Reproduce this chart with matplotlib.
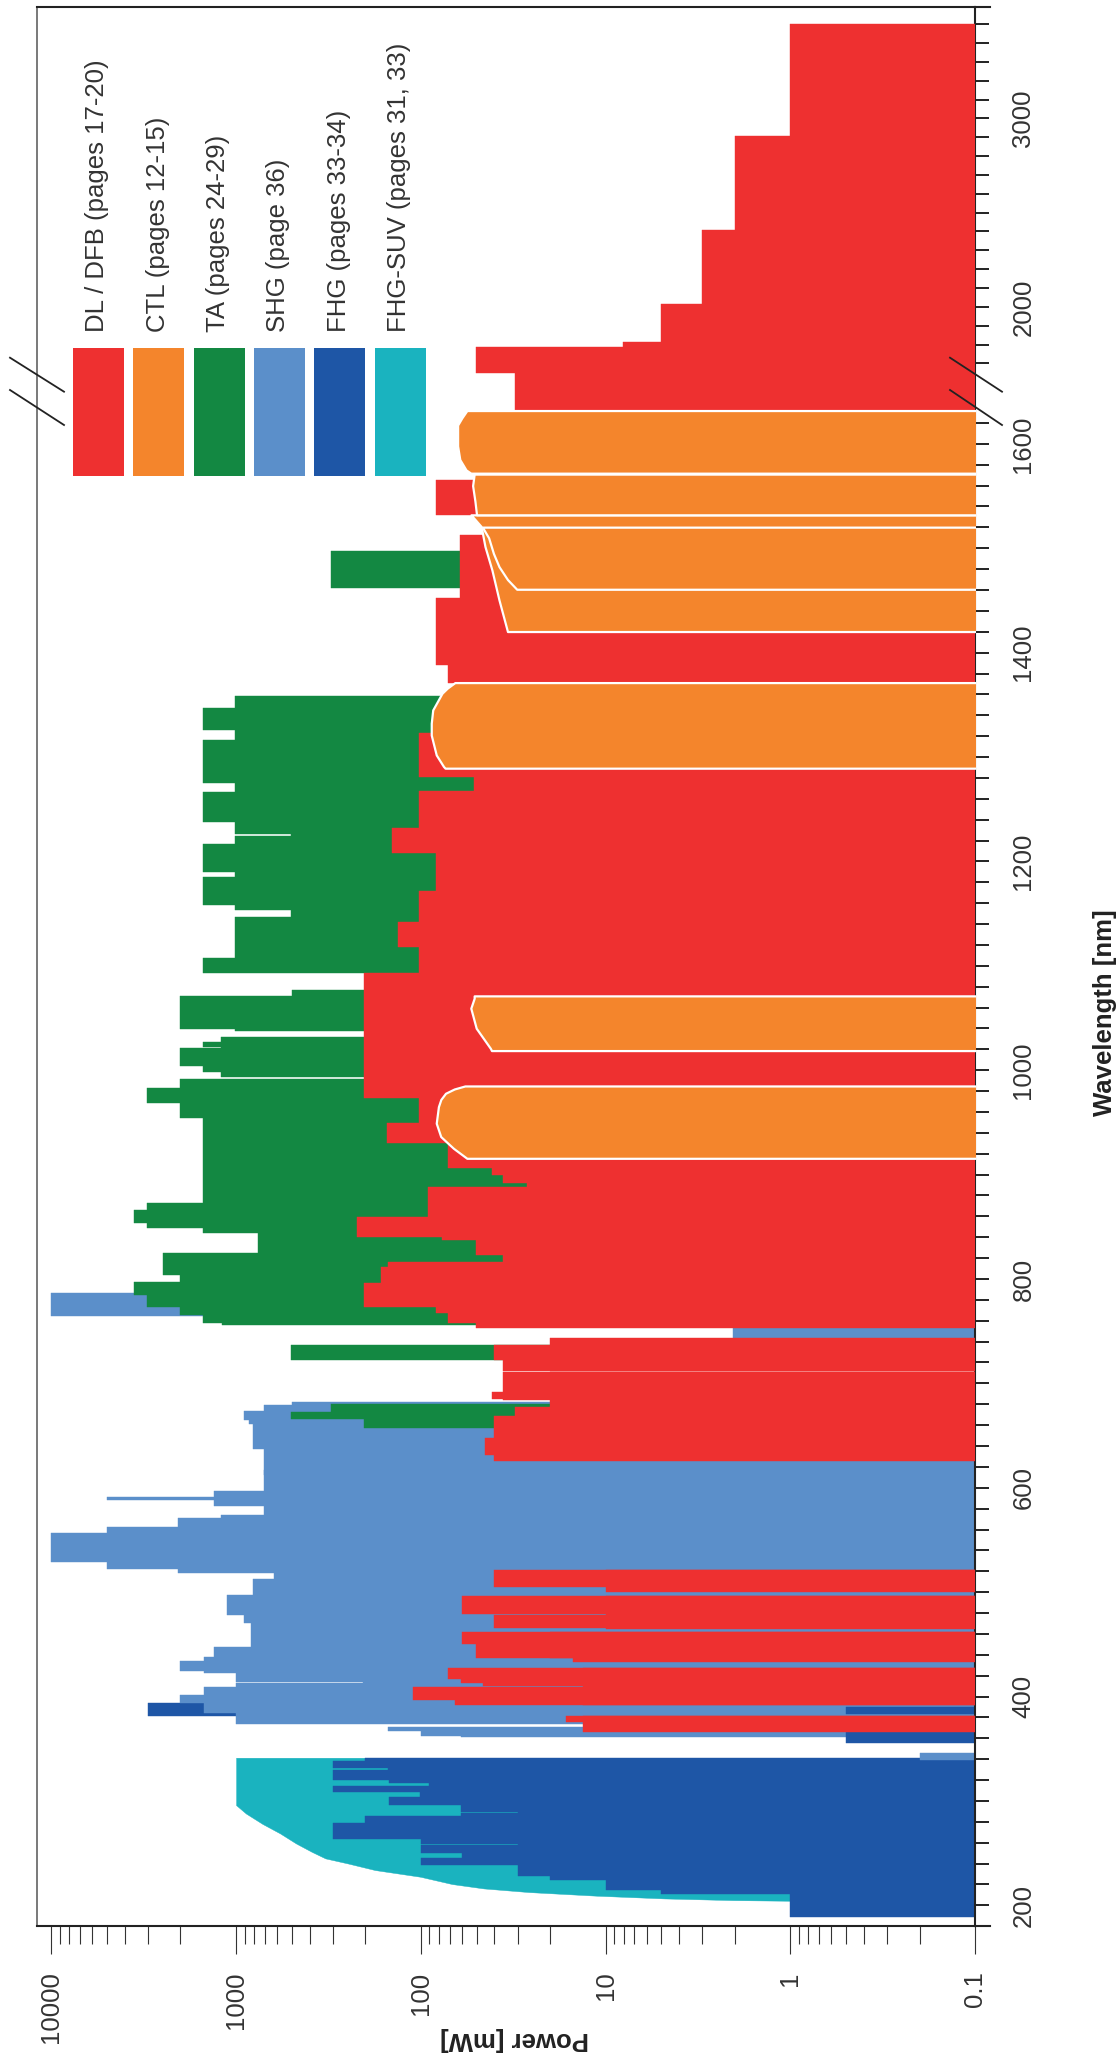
import numpy as np
import matplotlib
matplotlib.use("Agg")
import matplotlib.pyplot as plt
from matplotlib.patches import Rectangle
from matplotlib.lines import Line2D
from matplotlib.ticker import FixedLocator, FixedFormatter, NullFormatter

plt.rcParams['font.family'] = ['Liberation Sans', 'DejaVu Sans']

# ---------------- data ----------------
SERIES_NAMES = ["DL / DFB (pages 17-20)", "CTL (pages 12-15)", "TA (pages 24-29)",
                "SHG (page 36)", "FHG (pages 33-34)", "FHG-SUV (pages 31, 33)"]
SERIES_COLORS = ["#EE3030", "#F4852C", "#138842", "#5B8FCA", "#1E56A6", "#1AB3BF"]

# (wavelength start nm, wavelength end nm, max power mW)
DL_BARS = [
    (2907, 3500, 1.0), (2408, 2907, 2.0), (2014, 2408, 3.0), (1815, 2014, 5.0),
    (1789, 1815, 8.1), (1668, 1789, 50.6), (1632, 1668, 30.8), (1532, 1565.7, 82.6),
    (1452.1, 1512.8, 61.6), (1388.2, 1452.1, 82.6), (1371.3, 1388.2, 71.6),
    (1281.3, 1323, 102), (1267.6, 1281.3, 51.5), (1231.8, 1267.6, 102),
    (1207.8, 1231.8, 143), (1171.7, 1207.8, 82.6), (1142.4, 1171.7, 102),
    (1118.4, 1142.4, 133), (1092.9, 1118.4, 102), (973.1, 1092.9, 204),
    (949.8, 973.1, 102), (930.7, 949.8, 152), (906.1, 930.7, 71.6),
    (899.7, 906.1, 41), (891.7, 899.7, 36), (887.9, 891.7, 26.7),
    (859.1, 887.9, 91.8), (840.6, 859.1, 223), (837.4, 840.6, 76.9),
    (823.1, 837.4, 50.6), (816.7, 823.1, 36), (811.9, 816.7, 150),
    (795.9, 811.9, 164), (773.6, 795.9, 204), (767.2, 773.6, 82.6),
    (757.6, 767.2, 71.6), (752.8, 757.6, 50.6), (711.8, 743.9, 20),
    (722.5, 736.8, 40), (711.8, 722.5, 36), (684.2, 710.6, 36),
    (685.1, 692.1, 41), (677.8, 710.6, 20), (669.1, 677.8, 30.8),
    (647.5, 669.1, 40), (631.4, 647.5, 45), (625.7, 631.4, 40),
    (505.2, 521.2, 40.2), (500.4, 521.2, 10), (479.0, 496.3, 60),
    (464.4, 496.3, 10), (465.3, 478.1, 40), (450.3, 462.0, 60),
    (437.2, 462.0, 20), (437.2, 450.3, 50.6), (433.4, 437.2, 15),
    (416.5, 427.1, 71), (412.7, 416.5, 61), (410.1, 412.7, 46),
    (391.9, 427.1, 13.3), (396.7, 408.9, 111), (391.9, 396.7, 65),
    (376.0, 381.4, 16.3), (366.4, 381.4, 13.3),
]

TA_BARS = [
    (1462.3, 1497.5, 305), (1346.7, 1358.5, 1011), (1326.0, 1346.7, 1507),
    (1316.4, 1326.0, 1011), (1274.9, 1316.4, 1507), (1266.3, 1274.9, 1011),
    (1238.2, 1266.3, 1507), (1226.0, 1238.2, 1011), (1224.4, 1226.0, 505),
    (1216.5, 1224.4, 1011), (1189.6, 1216.5, 1507), (1185.5, 1189.6, 1011),
    (1158.3, 1185.5, 1507), (1153.6, 1158.3, 1011), (1147.2, 1153.6, 505),
    (1107.9, 1147.2, 1011), (1092.9, 1107.9, 1507), (1071.1, 1076.9, 497),
    (1039.2, 1071.1, 2023), (1038.0, 1039.2, 1011), (1021.0, 1031.6, 1208),
    (1022.5, 1027.3, 1507), (1004.1, 1021.0, 2023), (998.7, 1004.1, 1507),
    (993.3, 998.7, 1208), (982.7, 991.3, 2023), (969.0, 982.7, 3020),
    (954.0, 969.0, 2023), (872.5, 954.0, 1507), (866.1, 872.5, 3020),
    (853.4, 866.1, 3564), (848.6, 853.4, 3020), (843.8, 848.6, 1507),
    (824.7, 843.8, 760), (803.9, 824.7, 2500), (797.5, 803.9, 2023),
    (784.7, 797.5, 3564), (773.6, 784.7, 3020), (765.6, 773.6, 2023),
    (757.6, 765.6, 1507), (756.0, 757.6, 1186), (722.5, 736.8, 506),
    (673.0, 680.5, 305), (665.9, 673.0, 506), (657.6, 665.9, 204),
]

SHG_BARS = [
    (765.0, 786.3, 10000), (743.9, 752.8, 2.05), (679.4, 682.5, 497),
    (674.0, 679.4, 708), (665.0, 674.0, 909), (660.8, 665.0, 850),
    (637.2, 660.8, 810), (612.3, 637.2, 708), (597.2, 617.0, 708),
    (582.5, 597.2, 1318), (588.0, 591.0, 5000), (573.9, 582.5, 708),
    (570.7, 573.9, 1200), (562.1, 570.7, 2057), (557.0, 562.1, 5000),
    (529.2, 557.0, 10000), (521.8, 529.2, 5000), (518.0, 521.8, 2057),
    (513.0, 518.0, 620), (497.2, 513.0, 810), (478.1, 497.2, 1124),
    (470.1, 478.1, 909), (447.7, 470.1, 832), (438.2, 447.7, 1318),
    (434.4, 438.2, 1500), (424.8, 434.4, 2024), (422.3, 424.8, 1500),
    (414.0, 422.3, 1005), (413.0, 414.0, 206), (409.5, 413.0, 1005),
    (401.5, 409.5, 1500), (393.5, 401.5, 2024), (384.6, 393.5, 1500),
    (373.7, 384.6, 1005), (367.0, 370.5, 150), (362.5, 367.0, 100),
    (360.9, 362.5, 61), (339.2, 345.5, 0.2),
]

FHG_BARS = [
    (381.4, 394.2, 3000), (383.3, 390.3, 0.5), (355.8, 366.4, 0.5),
    (188.4, 210.8, 1.0), (210.8, 214.6, 5.0), (214.6, 224.2, 10.0),
    (224.2, 228.3, 20.0), (228.3, 238.6, 30), (238.6, 245.6, 100),
    (245.6, 250.4, 60), (250.4, 257.5, 100), (257.5, 258.3, 30),
    (258.3, 263.2, 100), (263.2, 279.1, 299), (279.1, 285.5, 201),
    (285.5, 288.1, 60.5), (288.1, 289.2, 30), (289.2, 296.0, 60.5),
    (296.0, 304.0, 149), (304.0, 308.8, 101), (308.8, 314.3, 299),
    (314.3, 316.8, 90), (316.8, 320.0, 149), (320.0, 329.6, 299),
    (329.6, 331.2, 150), (331.2, 338.5, 299), (338.5, 341.4, 201),
]

# FHG-SUV envelope: (wavelength nm, power mW)
SUV_CURVE = [
    (341.4, 1000), (296.0, 1000), (288.0, 885), (278.0, 720), (268.9, 578),
    (259.3, 474), (251.3, 390), (245.0, 329), (240.1, 248), (233.8, 177),
    (227.4, 100.7), (220.4, 67.8), (216.2, 45.7), (212.7, 26), (209.2, 11.1),
    (206.6, 4.8), (205.0, 2.05), (204.4, 1.01),
]

# CTL tuning curves: (wavelength nm, power mW)
CTL_CURVES = [
    [(984.9, 57.8), (982.0, 66), (977.9, 73.6), (972.0, 78), (965.1, 80.4),
     (949.2, 82.6), (936.4, 78.1), (925.2, 66.7), (915.6, 56.4)],
    [(1071.2, 51.5), (1068.9, 51.5), (1059.4, 53.7), (1040.2, 50.2),
     (1021.0, 42.1), (1018.8, 41.5)],
    [(1371.3, 65.5), (1366.0, 72), (1361.1, 76.9), (1345.1, 86.3), (1332.4, 87.9),
     (1321.0, 87.9), (1302.0, 82.6), (1291.0, 75.5), (1289.3, 74)],
    [(1532.0, 53.6), (1520.8, 47.2), (1501.6, 45), (1479.3, 41.3),
     (1450.5, 37.8), (1420.2, 34)],
    [(1520.2, 46.5), (1510.0, 43), (1495.0, 40.5), (1482.4, 37.8),
     (1470.0, 34), (1460.7, 30.3)],
    [(1571.0, 51.5), (1560.0, 52.5), (1545.0, 51), (1532.0, 50)],
    [(1631.9, 56.4), (1625.0, 60), (1618.0, 63.3), (1598.0, 63.3),
     (1585.0, 61.6), (1575.0, 57), (1571.9, 53.7)],
]

POWER_TICKS = [0.1, 1, 10, 100, 1000, 10000]
POWER_TICK_LABELS = ["0.1", "1", "10", "100", "1000", "10000"]
WL_TICKS = [200, 400, 600, 800, 1000, 1200, 1400, 1600, 2000, 3000]
WL_TICK_LABELS = ["200", "400", "600", "800", "1000", "1200", "1400", "1600", "2000", "3000"]

# ---------------- broken wavelength scale ----------------
BREAK_WL = 1672.0
UPPER_COMPRESSION = 0.1805


def fwd(x):
    x = np.asarray(x, dtype=float)
    return np.where(x <= BREAK_WL, x, BREAK_WL + (x - BREAK_WL) * UPPER_COMPRESSION)


def inv(u):
    u = np.asarray(u, dtype=float)
    return np.where(u <= BREAK_WL, u, BREAK_WL + (u - BREAK_WL) / UPPER_COMPRESSION)


W, H = 1118, 2062
fig = plt.figure(figsize=(W / 100, H / 100), dpi=100)
ax = fig.add_axes([37 / W, 1 - 1925.7 / H, 938.3 / W, 1919 / H])
ax.set_xscale('log')
ax.set_yscale('function', functions=(fwd, inv))
ax.set_xlim(11950, 0.1)
ax.set_ylim(180.5, 3593)

BASE = 0.05
C_DL, C_CTL, C_TA, C_SHG, C_FHG, C_SUV = SERIES_COLORS


def draw_bars(bars, color, z):
    if not bars:
        return
    s = np.array([b[0] for b in bars], float)
    e = np.array([b[1] for b in bars], float)
    p = np.array([b[2] for b in bars], float)
    ax.barh((s + e) / 2, p - BASE, height=e - s, left=BASE, color=color,
            edgecolor=color, linewidth=0.3, zorder=z)


# FHG-SUV envelope
lam = [c[0] for c in SUV_CURVE]
pw = [c[1] for c in SUV_CURVE]
ax.fill_betweenx(lam, BASE, pw, facecolor=C_SUV, edgecolor=C_SUV, linewidth=0.3, zorder=1.0)

draw_bars([b for b in FHG_BARS if b[2] >= 1], C_FHG, 1.2)
draw_bars(SHG_BARS, C_SHG, 1.5)
draw_bars([b for b in FHG_BARS if b[2] < 1], C_FHG, 1.6)
draw_bars(TA_BARS, C_TA, 2.0)
draw_bars(DL_BARS, C_DL, 3.0)

for i, curve in enumerate(CTL_CURVES):
    lam = [c[0] for c in curve]
    pw = [c[1] for c in curve]
    ax.fill_betweenx(lam, BASE, pw, facecolor=C_CTL, edgecolor='white',
                     linewidth=1.6, zorder=4 + i * 0.01)

# ---------------- axes styling ----------------
TXT = '#333333'
ax.xaxis.set_major_locator(FixedLocator(POWER_TICKS))
ax.xaxis.set_major_formatter(FixedFormatter(POWER_TICK_LABELS))
minor_p = [k * 10.0 ** d for d in range(-1, 4) for k in range(2, 10)]
ax.xaxis.set_minor_locator(FixedLocator(minor_p))
ax.xaxis.set_minor_formatter(NullFormatter())
ax.tick_params(axis='x', which='major', direction='out', length=20, width=0.8,
               color='#333333', pad=13, labelsize=18.5, labelcolor=TXT, labelrotation=90)
ax.tick_params(axis='x', which='minor', direction='out', length=13, width=0.8, color='#333333')

ax.yaxis.tick_right()
ax.yaxis.set_major_locator(FixedLocator(WL_TICKS))
ax.yaxis.set_major_formatter(FixedFormatter(WL_TICK_LABELS))
minor_w = [v for v in range(220, 1640, 20) if v not in WL_TICKS] + \
          [v for v in range(1700, 3600, 100) if v not in WL_TICKS]
ax.yaxis.set_minor_locator(FixedLocator(minor_w))
ax.yaxis.set_minor_formatter(NullFormatter())
ax.tick_params(axis='y', which='both', direction='out', length=10, width=1.4,
               color='#222222', pad=16, labelsize=18.5, labelcolor=TXT, labelrotation=90,
               left=False, right=True)
for lab in ax.get_yticklabels():
    lab.set_va('center')

for side in ['top', 'bottom', 'right']:
    ax.spines[side].set_color('#222222')
    ax.spines[side].set_linewidth(1.5)
ax.spines['left'].set_color('#555555')
ax.spines['left'].set_linewidth(1.1)

ax.set_xlabel('Power [mW]', fontsize=18.5, fontweight='bold', rotation=180, color='#222222')
ax.xaxis.set_label_coords(0.5094, -0.059)
ax.xaxis.label.set_ha('center')
ax.xaxis.label.set_va('center')

ax.yaxis.set_label_position('right')
ax.set_ylabel('Wavelength [nm]', fontsize=18.5, fontweight='bold', rotation=90, color='#222222')
ax.yaxis.set_label_coords(1.138, 0.4756)
ax.yaxis.label.set_ha('center')
ax.yaxis.label.set_va('center')


def px_line(x0, y0, x1, y1, **kw):
    fig.add_artist(Line2D([x0 / W, x1 / W], [1 - y0 / H, 1 - y1 / H],
                          transform=fig.transFigure, **kw))


# spine extensions beyond the right axis
px_line(975.3, 6.7, 990, 6.7, color='#222222', lw=1.5)
px_line(975.3, 1925.7, 990, 1925.7, color='#222222', lw=1.5)

# axis-break marks
for (x0, x1) in [(950, 1002), (10, 64)]:
    px_line(x0, 357.7, x1, 391.7, color='#222222', lw=1.3, zorder=10)
    px_line(x0, 390.0, x1, 425.0, color='#222222', lw=1.3, zorder=10)

# ---------------- legend ----------------
for i, (name, col) in enumerate(zip(SERIES_NAMES, SERIES_COLORS)):
    x0 = 72.7 + i * 60.4
    fig.add_artist(Rectangle((x0 / W, 1 - 475.7 / H), 51 / W, 127.4 / H,
                             transform=fig.transFigure, facecolor=col, edgecolor='none'))
    fig.text((x0 + 24.5) / W, 1 - 331.7 / H, name, rotation=90, ha='center', va='bottom',
             fontsize=18.5, color=TXT)

fig.savefig('out.png', dpi=100)
